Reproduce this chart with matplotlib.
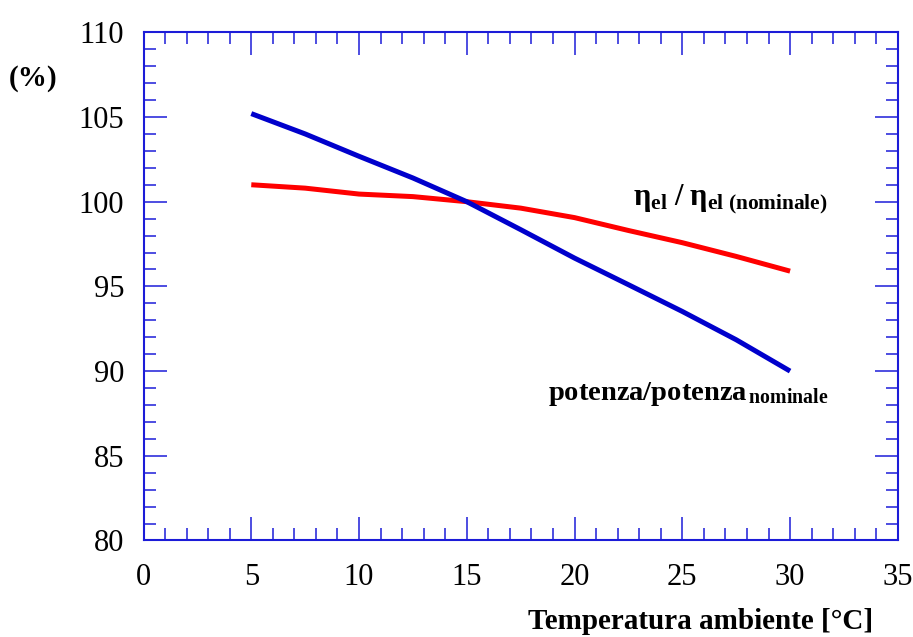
import matplotlib
matplotlib.use("Agg")
import matplotlib.pyplot as plt
from matplotlib.ticker import MultipleLocator

plt.rcParams.update({"font.family": "Liberation Serif",
    "mathtext.fontset": "custom", "mathtext.rm": "Liberation Serif",
    "mathtext.bf": "Liberation Serif:bold", "mathtext.it": "Liberation Serif:italic"})

FRAME = "#1c1cd8"; BLUE = "#0000cc"; RED = "#ff0000"

# temperatura ambiente [°C] e curve
temp = [5, 7.5, 10, 12.5, 15, 17.5, 20, 22.5, 25, 27.5, 30]
potenza = [105.2, 104.0, 102.68, 101.4, 100.0, 98.35, 96.67, 95.1, 93.52, 91.85, 90.0]
rendimento = [101.0, 100.8, 100.45, 100.3, 100.0, 99.62, 99.06, 98.3, 97.58, 96.77, 95.9]

fig = plt.figure(figsize=(9.13, 6.37), dpi=100)
ax = fig.add_axes([0.1572, 0.1515, 0.8262, 0.7978])

ax.plot(temp, rendimento, color=RED, lw=3.6, solid_capstyle="butt", solid_joinstyle="round")
ax.plot(temp, potenza, color=BLUE, lw=3.6, solid_capstyle="butt", solid_joinstyle="round")

ax.set_xlim(0, 35); ax.set_ylim(80, 110)
ax.xaxis.set_major_locator(MultipleLocator(5)); ax.xaxis.set_minor_locator(MultipleLocator(1))
ax.yaxis.set_major_locator(MultipleLocator(5)); ax.yaxis.set_minor_locator(MultipleLocator(1))
for s in ax.spines.values():
    s.set_color(FRAME); s.set_linewidth(1.5)
ax.tick_params(which="both", direction="in", top=True, right=True, color=FRAME,
    width=1.1, labelsize=22, labelcolor="black")
ax.tick_params(which="major", length=16.5)
ax.tick_params(which="minor", length=8.8)
ax.tick_params(axis="x", which="major", pad=16)
ax.tick_params(axis="y", which="major", pad=14)

fig.text(0.010, 0.876, "(%)", fontsize=21, fontweight="bold", ha="left", va="center")
fig.text(0.956, 0.013, "Temperatura ambiente [°C]", fontsize=21, fontweight="bold",
    ha="right", va="baseline")

ax.text(22.7, 99.8, r"$\mathbf{\eta}_{\mathbf{el}}\ \mathbf{/}\ \mathbf{\eta}_{\mathbf{el\ (nominale)}}$",
    fontsize=22, ha="left", va="baseline")
ax.text(18.76, 88.3, r"$\mathbf{potenza/potenza}_{\,\mathbf{nominale}}$",
    fontsize=20.5, ha="left", va="baseline")

fig.savefig("out.png", dpi=100, facecolor="white")
